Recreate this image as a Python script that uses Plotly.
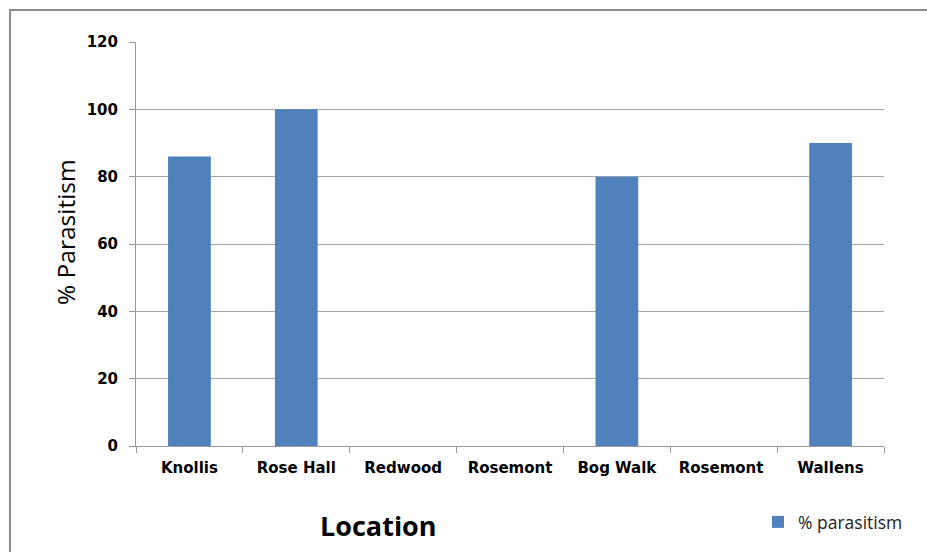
import plotly.graph_objects as go

locations = ["Knollis", "Rose Hall", "Redwood", "Rosemont", "Bog Walk", "Rosemont ", "Wallens"]
parasitism = [86, 100, 0, 0, 80, 0, 90]
y_ticks = [0, 20, 40, 60, 80, 100, 120]

W, H = 927, 552
L, R, T, B = 136, 43, 42, 106
pw, ph = W - L - R, H - T - B

fig = go.Figure()
fig.add_trace(go.Bar(
    x=locations, y=parasitism, name="% parasitism",
    marker=dict(color="#4F81BD", line=dict(width=0)),
))

tick_font = dict(size=15, family="DejaVu Sans", color="#000", weight="bold")

fig.update_layout(
    width=W, height=H,
    margin=dict(l=L, r=R, t=T, b=B),
    paper_bgcolor="white", plot_bgcolor="white",
    bargap=0.6,
    font=dict(family="Open Sans", color="#000000"),
    showlegend=True,
    legend=dict(x=(758 - L) / pw, y=(446 - 522) / ph, xanchor="left", yanchor="middle",
                font=dict(size=17.5, family="Open Sans", color="#222"),
                bgcolor="rgba(0,0,0,0)", itemwidth=30),
    xaxis=dict(
        type="category", tickson="boundaries", ticks="outside", ticklen=6,
        tickcolor="#999", showgrid=False, showline=True, linecolor="#999", linewidth=1,
        tickfont=tick_font, ticklabelstandoff=8,
    ),
    yaxis=dict(
        range=[0, 120], tickvals=y_ticks, ticks="outside", ticklen=6, tickcolor="#999",
        showgrid=True, gridcolor="#A6A6A6", gridwidth=1,
        showline=True, linecolor="#999", linewidth=1, zeroline=False,
        tickfont=tick_font, ticklabelstandoff=8,
    ),
    annotations=[
        dict(text="% Parasitism", xref="paper", yref="paper",
             x=(65 - L) / pw, y=(446 - 232) / ph, textangle=-90, showarrow=False,
             font=dict(size=24.5, family="Open Sans", color="#000"),
             xanchor="center", yanchor="middle"),
        dict(text="<b>Location</b>", xref="paper", yref="paper",
             x=(378 - L) / pw, y=(446 - 525) / ph, showarrow=False,
             font=dict(size=27, family="Open Sans", color="#000"),
             xanchor="center", yanchor="middle"),
    ],
    shapes=[
        dict(type="rect", xref="paper", yref="paper",
             x0=(10 - L) / pw, x1=(940 - L) / pw,
             y0=(446 - 570) / ph, y1=(446 - 10) / ph,
             line=dict(color="#8C8C8C", width=2), fillcolor="rgba(0,0,0,0)", layer="below"),
    ],
)

fig.write_html("out.html")
